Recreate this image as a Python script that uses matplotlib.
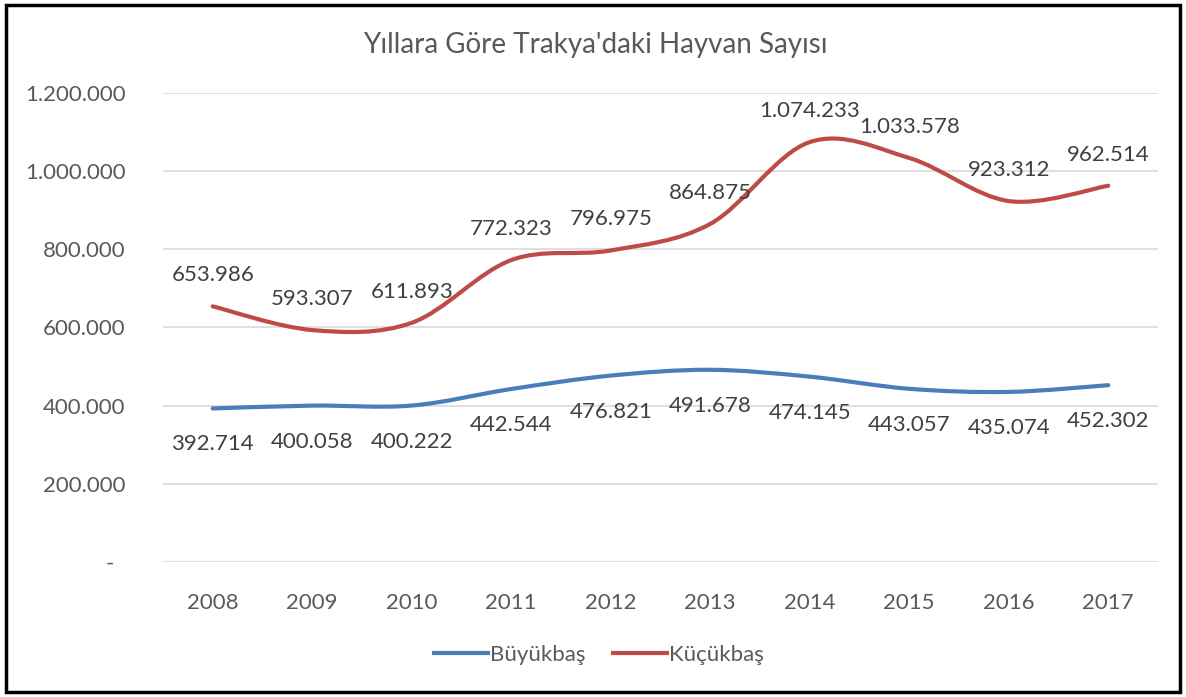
import matplotlib
matplotlib.use("Agg")
import matplotlib.pyplot as plt
import numpy as np
from matplotlib.path import Path
from matplotlib.patches import PathPatch, Rectangle
from matplotlib.lines import Line2D

plt.rcParams['font.family'] = ['Lato', 'DejaVu Sans']

years = ['2008', '2009', '2010', '2011', '2012', '2013', '2014', '2015', '2016', '2017']
buyukbas = [392714, 400058, 400222, 442544, 476821, 491678, 474145, 443057, 435074, 452302]
kucukbas = [653986, 593307, 611893, 772323, 796975, 864875, 1074233, 1033578, 923312, 962514]
series_names = ['Büyükbaş', 'Küçükbaş']
colors = ['#4A7EBB', '#BE4B48']
title = "Yıllara Göre Trakya'daki Hayvan Sayısı"

def fmt(v):
    # turkish style thousands separator
    return f"{v:,.0f}".replace(',', '.')

def smooth_path(x, y):
    # excel-like smoothed line: bezier segments through the data points
    x = np.asarray(x, float)
    y = np.asarray(y, float)
    n = len(x)
    verts = [(x[0], y[0])]
    codes = [Path.MOVETO]
    for i in range(n - 1):
        p0 = i - 1 if i > 0 else i
        p3 = i + 2 if i + 2 < n else i + 1
        c1 = (x[i] + (x[i+1] - x[p0]) / 6, y[i] + (y[i+1] - y[p0]) / 6)
        c2 = (x[i+1] - (x[p3] - x[i]) / 6, y[i+1] - (y[p3] - y[i]) / 6)
        verts += [c1, c2, (x[i+1], y[i+1])]
        codes += [Path.CURVE4] * 3
    return Path(verts, codes)

fig = plt.figure(figsize=(11.86, 6.97), dpi=100)
ax = fig.add_axes([0.1374, 0.1937, 0.839, 0.673])

xs = np.arange(len(years))
for vals, c in zip([buyukbas, kucukbas], colors):
    ax.add_patch(PathPatch(smooth_path(xs, vals), facecolor='none', edgecolor=c,
                           lw=3, capstyle='round', zorder=3))

# data labels
for i, v in enumerate(buyukbas):
    ax.annotate(fmt(v), (xs[i], v), xytext=(0, -36), textcoords='offset pixels',
                ha='center', va='center', fontsize=16, color='#404040')
for i, v in enumerate(kucukbas):
    ax.annotate(fmt(v), (xs[i], v), xytext=(0, 31), textcoords='offset pixels',
                ha='center', va='center', fontsize=16, color='#404040')

ax.set_xlim(-0.5, len(years) - 0.5)
ax.set_ylim(0, 1200000)
ax.set_xticks(xs)
ax.set_xticklabels(years)
yt = np.arange(0, 1200001, 200000)
ax.set_yticks(yt)
ax.set_yticklabels(['-  ' if v == 0 else fmt(v) for v in yt])
ax.tick_params(length=0, labelsize=16, colors='#595959', pad=27)
ax.tick_params(axis='x', pad=22)
for s in ax.spines.values():
    s.set_visible(False)
ax.grid(axis='y', color='#D9D9D9', lw=1.2)
ax.set_axisbelow(True)

fig.text(0.502, 0.935, title, ha='center', va='center', fontsize=20, color='#595959')

handles = [Line2D([], [], color=c, lw=3) for c in colors]
fig.legend(handles, series_names, loc='center', bbox_to_anchor=(0.505, 0.06), ncol=2,
           frameon=False, fontsize=16, labelcolor='#595959', handlelength=2.45,
           handletextpad=0.1, columnspacing=1.2)

# outer border
fig.add_artist(Rectangle((0.005, 0.007), 0.99, 0.986, transform=fig.transFigure,
                         fill=False, edgecolor='black', lw=2.5))

fig.savefig('out.png', dpi=100)
